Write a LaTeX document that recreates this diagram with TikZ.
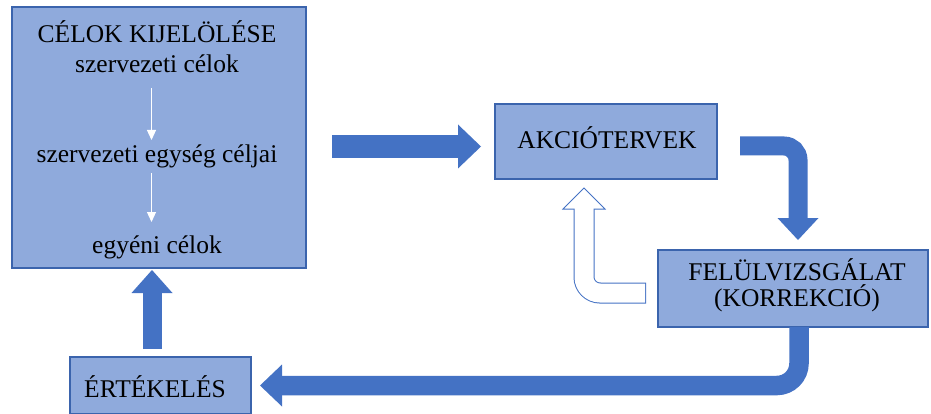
\documentclass[tikz,border=0pt]{standalone}
\usepackage{fontspec}
\setmainfont{Liberation Serif}
\usetikzlibrary{arrows.meta,calc}
\definecolor{boxfill}{HTML}{8FAADC}
\definecolor{boxline}{HTML}{3B64AD}
\definecolor{arrblue}{HTML}{4472C4}
\begin{document}
\begin{tikzpicture}[x=1pt,y=-1pt,
  every node/.style={inner sep=0pt, outer sep=0pt},
  box/.style={draw=boxline, fill=boxfill, line width=1.2pt, rectangle, anchor=north west},
  lbl/.style={anchor=base, font=\fontsize{25.5pt}{27pt}\selectfont, text=black},
  shaft/.style={draw=arrblue, line cap=butt},
  inarrow/.style={white, line width=1.2pt, -{Triangle[length=10pt,width=9pt]}}]
\useasboundingbox (0,0) rectangle (931,414);

% boxes
\node[box, minimum width=294pt, minimum height=261pt] (goals) at (12,7) {};
\node[box, minimum width=222pt, minimum height=75pt] (akcio) at (495,104) {};
\node[box, minimum width=270pt, minimum height=77pt] (felul) at (658,250) {};
\node[box, minimum width=181pt, minimum height=57pt] (ertek) at (70,357) {};

% texts
\node[lbl] (t1) at (157,43) {CÉLOK KIJELÖLÉSE};
\node[lbl] (t2) at (157,73) {szervezeti célok};
\node[lbl] (t3) at (157,163) {szervezeti egység céljai};
\node[lbl] (t4) at (157,253) {egyéni célok};
\node[lbl] (ta) at (607,149) {AKCIÓTERVEK};
\node[lbl] (tf1) at (797,280) {FELÜLVIZSGÁLAT};
\node[lbl] (tf2) at (797,306) {(KORREKCIÓ)};
\node[lbl] (te) at (155,397) {ÉRTÉKELÉS};

% white arrows inside the goals box
\draw[inarrow] ([shift={(-5.5pt,-15pt)}]t2.base) -- ([shift={(-5.5pt,23pt)}]t3.base);
\draw[inarrow] ([shift={(-5.5pt,-10pt)}]t3.base) -- ([shift={(-5.5pt,31pt)}]t4.base);

% goals -> akcio
\coordinate (r1) at ([shift={(26pt,-9pt)}]goals.east);
\coordinate (r2) at ([shift={(-37pt,-5pt)}]akcio.west);
\draw[shaft, line width=23pt] (r1) -- ([xshift=1pt]r2);
\fill[arrblue] ([yshift=22pt]r2) -- ([xshift=23pt]r2) -- ([yshift=-22pt]r2) -- cycle;

% akcio -> felul
\coordinate (c1) at ([shift={(23pt,-4.5pt)}]akcio.east);
\coordinate (c2) at ([shift={(5pt,32pt)}]felul.north);
\draw[shaft, line width=19pt, rounded corners=14pt] (c1) -| ([yshift=-1pt]c2);
\fill[arrblue] ([xshift=-20.5pt]c2) -- ([xshift=20.5pt]c2) -- ([yshift=-22pt]c2) -- cycle;

% felul -> ertek
\coordinate (b1) at ([xshift=6pt]felul.south);
\coordinate (b2) at ([xshift=31pt]ertek.east);
\draw[shaft, line width=19.5pt, rounded corners=22pt] (b1) |- ([xshift=-1pt]b2);
\fill[arrblue] ([yshift=21pt]b2) -- ([xshift=-22pt]b2) -- ([yshift=-21pt]b2) -- cycle;

% ertek -> goals
\coordinate (u1) at ([shift={(-8.5pt,8pt)}]ertek.north);
\coordinate (u2) at ([shift={(-7pt,-25pt)}]goals.south);
\draw[shaft, line width=19pt] (u1) -- ([yshift=1pt]u2);
\fill[arrblue] ([xshift=-20.5pt]u2) -- ([xshift=20.5pt]u2) -- ([yshift=23pt]u2) -- cycle;

% hollow arrow felul -> akcio
\coordinate (h1) at ([shift={(-12pt,-4.5pt)}]felul.west);
\coordinate (h2) at ([shift={(-22pt,-9pt)}]akcio.south);
\filldraw[fill=white, draw=arrblue, line width=1pt] (h2) -- ([shift={(-21pt,-21pt)}]h2) -- ([shift={(21pt,-21pt)}]h2) -- cycle;
\draw[arrblue, line width=21pt, rounded corners=16pt] (h1) -| ([yshift=-21pt]h2);
\draw[white, line width=19pt, rounded corners=16pt] ([xshift=-1pt]h1) -| ([yshift=-19.5pt]h2);
\end{tikzpicture}
\end{document}
